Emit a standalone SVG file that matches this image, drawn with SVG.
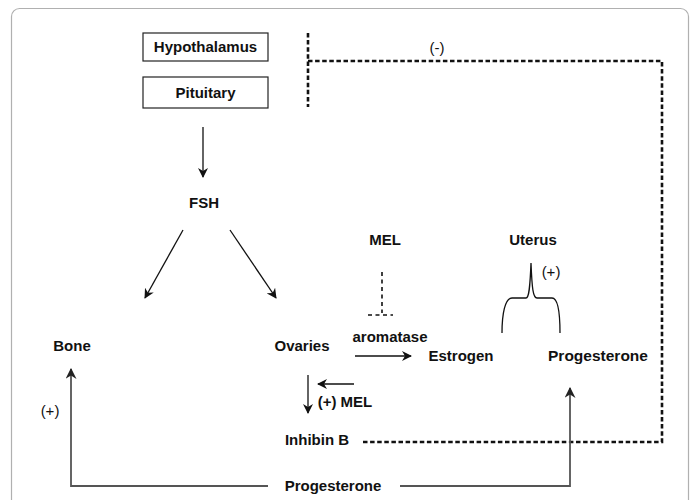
<svg xmlns="http://www.w3.org/2000/svg" width="696" height="500" viewBox="0 0 696 500">
<style>
.b{font-family:"Liberation Sans",Arial,sans-serif;font-weight:bold;font-size:15px;fill:#111;text-anchor:middle}
.r{font-family:"Liberation Sans",Arial,sans-serif;font-size:15px;fill:#111;text-anchor:middle}
.box{fill:#fff;stroke:#222;stroke-width:1.2}
.ln{fill:none;stroke:#111;stroke-width:1.3}
.gl{fill:none;stroke:#555;stroke-width:1.8}
.dash{fill:none;stroke:#111;stroke-width:2.6;stroke-dasharray:4.5 2.6}
.tdash{fill:none;stroke:#111;stroke-width:1.6;stroke-dasharray:4 3.5}
</style>
<defs>
<marker id="ah" markerWidth="10" markerHeight="10" viewBox="0 0 10 10" refX="9" refY="5" orient="auto" markerUnits="userSpaceOnUse">
<path d="M0,0 L10,5 L0,10 L3,5 Z" fill="#111"/>
</marker>
<marker id="ahg" markerWidth="11" markerHeight="11" viewBox="0 0 10 10" refX="9" refY="5" orient="auto" markerUnits="userSpaceOnUse">
<path d="M0,0 L10,5 L0,10 L3,5 Z" fill="#222"/>
</marker>
</defs>
<rect x="11.5" y="8.5" width="677" height="520" rx="8" fill="#fff" stroke="#b0b0b0" stroke-width="1.2"/>
<g id="connectors">
<path class="ln" d="M203,127 L203,177" marker-end="url(#ah)"/>
<path class="ln" d="M183,230 L145,298" marker-end="url(#ah)"/>
<path class="ln" d="M230,230 L276,298" marker-end="url(#ah)"/>
<path class="ln" d="M355,356 L411,356" marker-end="url(#ah)"/>
<path class="ln" d="M308,375 L308,413" marker-end="url(#ah)"/>
<path class="ln" d="M354,384 L318,384" marker-end="url(#ah)"/>
<path class="tdash" d="M382,272 L382,313"/>
<path class="tdash" d="M368,315 L393,315"/>
<path class="dash" d="M308,33 L308,107"/>
<path class="dash" d="M308,61 L662,61 L662,442 L362,442"/>
<path class="gl" d="M268,486 L71,486 L71,369" marker-end="url(#ahg)"/>
<path class="gl" d="M400,486 L570,486 L570,388" marker-end="url(#ahg)"/>
<path class="ln" d="M502,333 C502,314 505,298 512,298 L526,298 C529,298 530,288 531,263 C532,288 533,298 537,298 L552,298 C558,298 560,314 560,333"/>
</g>
<g id="hypothalamus"><rect class="box" x="143" y="33" width="125" height="28"/><text class="b" x="205.5" y="52">Hypothalamus</text></g>
<g id="pituitary"><rect class="box" x="143" y="77" width="125" height="31"/><text class="b" x="205.5" y="98">Pituitary</text></g>
<g id="fsh"><text class="b" x="204" y="208">FSH</text></g>
<g id="bone"><text class="b" x="72" y="351">Bone</text></g>
<g id="ovaries"><text class="b" x="302" y="351">Ovaries</text></g>
<g id="aromatase"><text class="b" x="390" y="342">aromatase</text></g>
<g id="mel"><text class="b" x="385" y="245">MEL</text></g>
<g id="uterus"><text class="b" x="533" y="245">Uterus</text></g>
<g id="estrogen"><text class="b" x="461" y="361">Estrogen</text></g>
<g id="progesterone-r"><text class="b" x="598" y="361" style="font-size:15.5px">Progesterone</text></g>
<g id="mel2"><text class="b" x="345" y="407">(+) MEL</text></g>
<g id="inhibin"><text class="b" x="317" y="445">Inhibin B</text></g>
<g id="progesterone-b"><text class="b" x="333" y="491">Progesterone</text></g>
<g id="labels">
<text class="r" x="437" y="53">(-)</text>
<text class="r" x="551" y="277">(+)</text>
<text class="r" x="50" y="416">(+)</text>
</g>
</svg>
